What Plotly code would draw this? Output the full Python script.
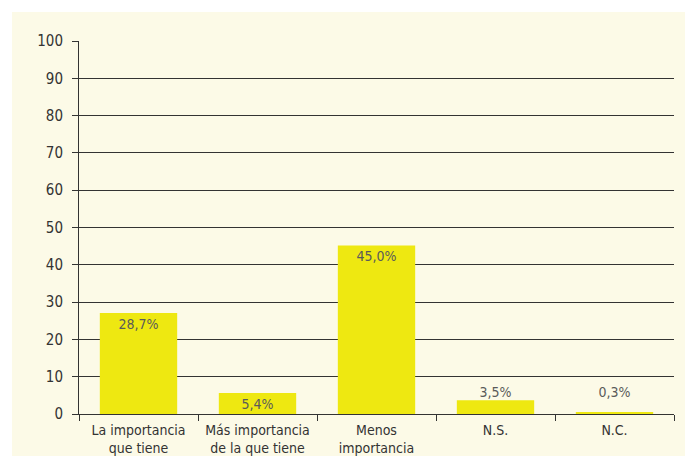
import plotly.graph_objects as go

categories = ["La importancia<br>que tiene", "Más importancia<br>de la que tiene",
              "Menos<br>importancia", "N.S.", "N.C."]
bar_heights = [27.1, 5.6, 45.2, 3.7, 0.4]
bar_labels = ["28,7%", "5,4%", "45,0%", "3,5%", "0,3%"]
label_inside = [True, True, True, False, False]
y_ticks = [0, 10, 20, 30, 40, 50, 60, 70, 80, 90, 100]

BG = "#FCFAE7"
BAR = "#EEE811"
FONT = "DejaVu Sans Condensed, Roboto, Arial, sans-serif"
LABEL_FONT = dict(family=FONT, size=14, color="#5a5a5a")

fig = go.Figure(go.Bar(
    x=categories, y=bar_heights,
    text=[t if i else "" for t, i in zip(bar_labels, label_inside)],
    textposition="inside", insidetextanchor="end",
    textfont=LABEL_FONT,
    marker=dict(color=BAR, line=dict(width=0)),
    width=0.65, cliponaxis=False, hoverinfo="skip",
))

# labels above the small bars, aligned on a common baseline
out_cats = [c for c, i in zip(categories, label_inside) if not i]
out_text = [t for t, i in zip(bar_labels, label_inside) if not i]
out_base = max(h for h, i in zip(bar_heights, label_inside) if not i)
fig.add_trace(go.Scatter(
    x=out_cats, y=[out_base] * len(out_cats), text=out_text,
    mode="text", textposition="top center", textfont=LABEL_FONT,
    hoverinfo="skip", cliponaxis=False,
))

L, R, T, B = 79, 11, 41, 42
W, H = 685, 456
pw, ph = W - L - R, H - T - B

fig.add_shape(type="rect", xref="paper", yref="paper", layer="below",
              x0=(12 - L) / pw, x1=(W - L) / pw,
              y0=-(H - (H - B)) / ph, y1=((H - B) - 12) / ph,
              fillcolor=BG, line=dict(width=0))

fig.update_layout(
    width=W, height=H,
    margin=dict(l=L, r=R, t=T, b=B),
    paper_bgcolor="white", plot_bgcolor=BG,
    showlegend=False,
    uniformtext=dict(minsize=14, mode="show"),
    font=dict(family=FONT, size=14, color="#333333"),
    xaxis=dict(showgrid=False, ticks="outside", tickson="boundaries",
               ticklen=6, tickcolor="#333333", showline=True,
               linecolor="#333333", linewidth=1, tickangle=0,
               automargin=False, ticklabelstandoff=3,
               tickfont=dict(family=FONT, size=14, color="#333333")),
    yaxis=dict(range=[0, 100], tickvals=y_ticks, showgrid=True,
               gridcolor="#333333", gridwidth=1, zeroline=False,
               showline=True, linecolor="#333333", linewidth=1,
               ticks="outside", ticklen=6, tickcolor="#333333",
               automargin=False, ticklabelstandoff=6,
               tickfont=dict(family=FONT, size=15, color="#333333")),
)

fig.write_html("out.html", config={"displayModeBar": False},
               post_script="document.body.style.margin='0';document.body.style.overflow='hidden';")
